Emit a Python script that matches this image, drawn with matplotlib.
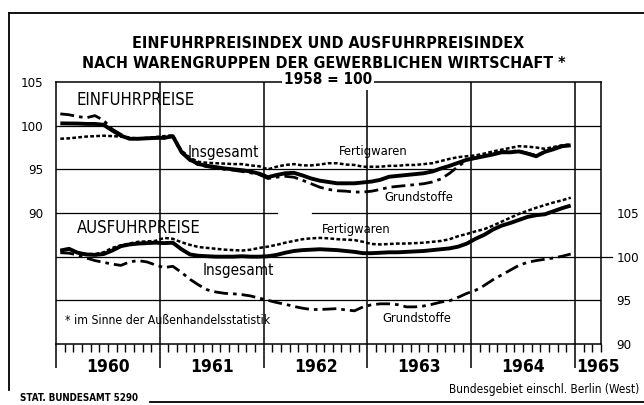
import matplotlib
matplotlib.use("Agg")
import matplotlib.pyplot as plt
import matplotlib.font_manager as fm
import matplotlib.transforms as mtransforms
from matplotlib.lines import Line2D
import numpy as np

# ---------------- data (monthly, Jan 1960 - Dec 1964, 1958 = 100) ----------------
years = [1960, 1961, 1962, 1963, 1964, 1965]
year_labels = ["1960", "1961", "1962", "1963", "1964", "1965"]
left_ticks = [105, 100, 95, 90]
right_ticks = [105, 100, 95, 90]

ein_insgesamt = [100.26, 100.25, 100.24, 100.2, 100.2, 100.1, 99.45, 98.86, 98.5, 98.5,
                 98.55, 98.6, 98.6, 98.8, 97.0, 96.1, 95.6, 95.4, 95.25, 95.1,
                 95.0, 94.9, 94.75, 94.5, 94.1, 94.35, 94.55, 94.6, 94.3, 93.95,
                 93.7, 93.55, 93.4, 93.4, 93.4, 93.5, 93.6, 93.8, 94.15, 94.25,
                 94.35, 94.45, 94.55, 94.75, 95.1, 95.4, 95.75, 96.1, 96.3, 96.5,
                 96.7, 96.95, 96.95, 97.05, 96.8, 96.5, 97.0, 97.3, 97.65, 97.75]
ein_fertigwaren = [98.5, 98.55, 98.65, 98.75, 98.8, 98.85, 98.8, 98.75, 98.6, 98.55,
                   98.6, 98.7, 98.8, 98.9, 97.15, 96.3, 95.85, 95.75, 95.7, 95.65,
                   95.6, 95.6, 95.45, 95.35, 95.0, 95.3, 95.5, 95.6, 95.45, 95.45,
                   95.55, 95.7, 95.7, 95.55, 95.5, 95.3, 95.3, 95.3, 95.4, 95.4,
                   95.5, 95.5, 95.6, 95.7, 95.95, 96.2, 96.4, 96.5, 96.6, 96.8,
                   97.05, 97.25, 97.45, 97.65, 97.6, 97.5, 97.35, 97.55, 97.75, 97.85]
ein_grundstoffe = [101.35, 101.25, 101.05, 100.9, 101.15, 100.6, 99.6, 99.0, 98.55, 98.5,
                   98.55, 98.6, 98.6, 98.75, 96.9, 96.0, 95.5, 95.3, 95.15, 95.0,
                   94.9, 94.75, 94.6, 94.4, 93.95, 94.1, 94.2, 94.1, 93.75, 93.35,
                   92.95, 92.7, 92.55, 92.5, 92.4, 92.4, 92.5, 92.7, 92.95, 93.05,
                   93.15, 93.25, 93.35, 93.55, 93.9, 94.55, 95.35, 96.05, 96.3, 96.5,
                   96.75, 97.0, 97.05, 97.1, 96.85, 96.6, 97.0, 97.35, 97.7, 97.8]

aus_insgesamt = [100.7, 100.9, 100.45, 100.25, 100.2, 100.3, 100.7, 101.2, 101.4, 101.5,
                 101.55, 101.6, 101.55, 101.6, 100.85, 100.25, 100.1, 100.05, 100.0, 100.0,
                 100.0, 100.05, 100.0, 100.0, 100.05, 100.2, 100.45, 100.65, 100.75, 100.8,
                 100.85, 100.8, 100.75, 100.65, 100.55, 100.4, 100.4, 100.45, 100.5, 100.5,
                 100.55, 100.6, 100.65, 100.75, 100.85, 100.95, 101.15, 101.5, 102.05, 102.5,
                 103.1, 103.55, 103.85, 104.2, 104.55, 104.75, 104.85, 105.2, 105.55, 105.85]
aus_fertigwaren = [100.7, 100.8, 100.45, 100.3, 100.3, 100.5, 101.0, 101.3, 101.5, 101.7,
                   101.75, 101.8, 102.15, 102.05, 101.65, 101.35, 101.1, 101.0, 100.9, 100.8,
                   100.75, 100.7, 100.8, 101.0, 101.15, 101.35, 101.6, 101.8, 102.0, 102.1,
                   102.15, 102.1, 102.0, 101.95, 101.9, 101.7, 101.45, 101.4, 101.45, 101.5,
                   101.5, 101.55, 101.6, 101.7, 101.8, 102.0, 102.35, 102.6, 102.9, 103.15,
                   103.55, 104.0, 104.45, 104.9, 105.25, 105.6, 105.9, 106.2, 106.45, 106.75]
aus_grundstoffe = [100.45, 100.4, 100.2, 99.85, 99.55, 99.35, 99.15, 99.0, 99.4, 99.55,
                   99.4, 99.05, 98.75, 98.9, 98.2, 97.4, 96.75, 96.2, 95.95, 95.8,
                   95.75, 95.65, 95.5, 95.25, 95.0, 94.75, 94.55, 94.3, 94.1, 93.95,
                   93.95, 94.0, 94.05, 93.9, 93.8, 94.25, 94.5, 94.6, 94.6, 94.5,
                   94.25, 94.25, 94.35, 94.55, 94.8, 94.95, 95.35, 95.8, 96.15, 96.7,
                   97.35, 97.9, 98.45, 99.0, 99.35, 99.55, 99.7, 99.85, 100.05, 100.3]

# ---------------- fonts ----------------
names = {f.name for f in fm.fontManager.ttflist}
stretches = {(f.name, f.stretch) for f in fm.fontManager.ttflist}
if "Liberation Sans Narrow" in names:
    NARROW = dict(family="Liberation Sans Narrow")
elif ("DejaVu Sans", "condensed") in stretches or ("DejaVu Sans", "semi-condensed") in stretches:
    NARROW = dict(family="DejaVu Sans", fontstretch="condensed")
else:
    NARROW = dict(family="DejaVu Sans")

def F(size, weight="bold", **kw):
    d = dict(NARROW)
    d.update(fontsize=size, fontweight=weight, color="black")
    d.update(kw)
    return d

W, H = 644, 405
fig = plt.figure(figsize=(W / 100, H / 100), dpi=100)
fig.patch.set_facecolor("white")

def fx(px):
    return px / W

def fy(py):
    return 1 - py / H

# plot area
L, R, T, B = 56, 601, 82, 344
XMAX = 1965.24
ax = fig.add_axes([fx(L), fy(B), (R - L) / W, (B - T) / H])
ax.set_xlim(1960, XMAX)
ax.set_ylim(75, 105)
OFFSET = -15  # Ausfuhr scale: right 105 == left 90

for s in ax.spines.values():
    s.set_linewidth(1.1)
    s.set_color("black")

# grid lines
for v in [100, 95, 80]:
    ax.axhline(v, color="black", lw=0.9, zorder=1)
# the 90-line is interrupted in the original drawing
ax.plot([1960, 1962.125], [90, 90], color="black", lw=0.9, zorder=1)
ax.plot([1962.47, XMAX], [90, 90], color="black", lw=0.9, zorder=1)
ax.plot([1960, XMAX + 0.12], [85, 85], color="black", lw=0.9, zorder=1, clip_on=False)
for yv in years[1:]:
    ax.axvline(yv, color="black", lw=1.1, zorder=1)

x = 1960 + (np.arange(len(ein_insgesamt)) + 0.5) / 12.0

def draw(series, style, off=0.0):
    yy = np.array(series) + off
    if style == "ins":
        ax.plot(x, yy, color="black", lw=2.8, solid_capstyle="butt", zorder=4)
    elif style == "fert":
        ax.plot(x, yy, color="black", lw=1.8, dashes=(1.5, 0.9), zorder=3)
    else:
        ax.plot(x, yy, color="black", lw=2.0, dashes=(5.0, 1.8, 1.3, 1.8), zorder=3)

draw(ein_grundstoffe, "grund")
draw(ein_fertigwaren, "fert")
draw(ein_insgesamt, "ins")
draw(aus_grundstoffe, "grund", OFFSET)
draw(aus_fertigwaren, "fert", OFFSET)
draw(aus_insgesamt, "ins", OFFSET)

# x axis ticks
ax.set_xticks(years)
ax.set_xticklabels([])
ax.set_xticks(np.arange(1960, 1965.26, 1 / 12.0), minor=True)
ax.tick_params(axis="x", which="major", direction="out", length=17, width=1.1, top=False)
ax.tick_params(axis="x", which="minor", direction="out", length=5.8, width=1.0, top=False)
blend = mtransforms.blended_transform_factory(ax.transData, fig.transFigure)
for yv, lab in zip(years, year_labels):
    xp = yv + 0.5 if yv < 1965 else 1965.22
    ax.text(xp, fy(367), lab, transform=blend, ha="center", va="center", **F(12.5))

# left y axis
ax.set_yticks(left_ticks)
ax.set_yticklabels([str(t) for t in left_ticks], **F(9.5, "normal"))
ax.tick_params(axis="y", which="major", length=0, pad=9)
ax.set_yticks([100], minor=True)
ax.tick_params(axis="y", which="minor", length=9.5, width=1.0, direction="out")

# right y axis (Ausfuhr)
ax2 = ax.twinx()
ax2.set_ylim(75 - OFFSET, 105 - OFFSET)
ax2.set_yticks(right_ticks)
ax2.set_yticklabels([str(t) for t in right_ticks], **F(9.5, "normal"))
ax2.tick_params(axis="y", which="major", length=0, pad=11)
for s in ax2.spines.values():
    s.set_visible(False)

# titles
fig.text(fx(328), fy(44), "EINFUHRPREISINDEX UND AUSFUHRPREISINDEX", ha="center", va="center", **F(11.5))
fig.text(fx(324), fy(63), "NACH WARENGRUPPEN DER GEWERBLICHEN WIRTSCHAFT *", ha="center", va="center", **F(11.5))
fig.text(fx(328), fy(80), "1958 = 100", ha="center", va="center",
         bbox=dict(facecolor="white", edgecolor="none", pad=1.5), zorder=10, **F(11))

# section headings and series labels
fig.text(fx(76), fy(100), "EINFUHRPREISE", ha="left", va="center", **F(12, "normal"))
fig.text(fx(77), fy(228), "AUSFUHRPREISE", ha="left", va="center", **F(12, "normal"))
fig.text(fx(188), fy(152), "Insgesamt", ha="left", va="center", **F(11, "normal", family="DejaVu Sans"))
fig.text(fx(339), fy(152), "Fertigwaren", ha="left", va="center", **F(9.3, "normal"))
fig.text(fx(384), fy(197), "Grundstoffe", ha="left", va="center", **F(9.3, "normal"))
fig.text(fx(322), fy(229), "Fertigwaren", ha="left", va="center", **F(9.3, "normal"))
fig.text(fx(203), fy(271), "Insgesamt", ha="left", va="center", **F(11, "normal", family="DejaVu Sans"))
fig.text(fx(382), fy(319), "Grundstoffe", ha="left", va="center", **F(9.3, "normal"))
fig.text(fx(65), fy(320), "* im Sinne der Außenhandelsstatistik", ha="left", va="center", **F(8.8, "normal"))

# footer
fig.text(fx(20), fy(398), "STAT. BUNDESAMT 5290", ha="left", va="center", **F(7))
fig.text(fx(639), fy(390), "Bundesgebiet einschl. Berlin (West)", ha="right", va="center", **F(8.5, "normal"))

# outer frame
frame = [((9, 13), (644, 13)), ((9, 13), (9, 390)), ((150, 402), (644, 402))]
for (x0, y0), (x1, y1) in frame:
    fig.add_artist(Line2D([fx(x0), fx(x1)], [fy(y0), fy(y1)], color="black", lw=1.3,
                          transform=fig.transFigure))

fig.savefig("out.png", dpi=100, facecolor="white")
